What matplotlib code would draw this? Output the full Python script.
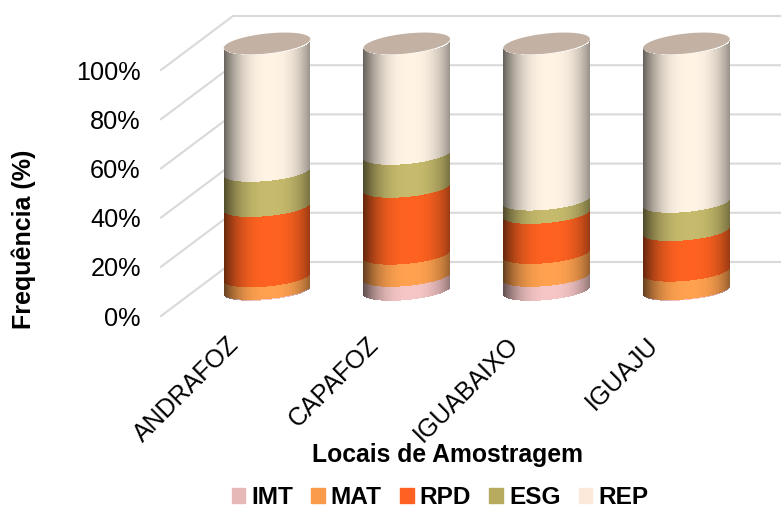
import numpy as np
import matplotlib
matplotlib.use('Agg')
import matplotlib.pyplot as plt
from matplotlib.patches import Patch
from matplotlib.transforms import ScaledTranslation

plt.rcParams['font.family'] = ['Liberation Sans', 'DejaVu Sans']

locais = ['ANDRAFOZ', 'CAPAFOZ', 'IGUABAIXO', 'IGUAJU']
imt = [0.4, 5.7, 5.7, 0.3]
mat = [5.1, 9.0, 9.3, 7.5]
rpd = [28.6, 27.2, 16.3, 16.5]
esg = [14.3, 13.4, 5.4, 11.5]
rep = [51.6, 44.7, 63.3, 64.2]

series = [imt, mat, rpd, esg, rep]
nomes = ['IMT', 'MAT', 'RPD', 'ESG', 'REP']
cores = ['#F6C6C6', '#FFA14F', '#FF6220', '#C6BA6C', '#FFF3E4']
cores_legenda = ['#E6B8B7', '#F99B4B', '#FF6122', '#B7AB5F', '#FDE9D9']
cor_tampa = '#C3B2A4'
cor_grade = '#D9D9D9'
ticks_y = [0, 20, 40, 60, 80, 100]

W, H = 781, 509
# frente do "chao" em pixels, o resto sai da projecao obliqua
left, right, bottom, top = 161, 709, 316, 70
px_x = 139.8   # pixels por categoria
px_y = (bottom - top) / 100.0

fig = plt.figure(figsize=(W / 100, H / 100), dpi=100)
ax = fig.add_axes([left / W, 1 - bottom / H, (right - left) / W, (bottom - top) / H])
xmin = -72 / px_x
xlim = (xmin, xmin + (right - left) / px_x)

prof_x = 72 / px_x
prof_y = 54 / px_y

# parede do fundo e linhas diagonais
for v in ticks_y:
    ax.plot([xmin, xmin + prof_x, xlim[1] + prof_x], [v, v + prof_y, v + prof_y],
            color=cor_grade, lw=1.5, clip_on=False, zorder=1)

# cilindros
meio = 0.472
raio = 43.3 / px_x
incl = 4.0 / px_y
semi = 9.5 / px_y
u = np.linspace(-1, 1, 173)
um = (u[:-1] + u[1:]) / 2
brilho = 1 - 0.5 * np.abs(um - 0.08) ** 2.6


def borda(v):
    return v + meio * prof_y + incl * u - semi * np.sqrt(1 - u ** 2)


for i in range(len(locais)):
    cx = i + meio * prof_x
    xs = cx + raio * u
    base = 0
    for s, cor in zip(series, cores):
        v = s[i]
        X = np.vstack([xs, xs])
        Y = np.vstack([borda(base), borda(base + v)])
        rgb = np.outer(brilho, matplotlib.colors.to_rgb(cor))[np.newaxis, :, :]
        ax.pcolormesh(X, Y, rgb, shading='flat', clip_on=False, zorder=3)
        base += v
    # tampa um pouco acima do centro e mais inclinada
    t = np.linspace(0, 2 * np.pi, 200)
    ax.fill(cx + raio * np.cos(t),
            base + meio * prof_y + 1 / px_y + 4.5 / px_y * np.cos(t) + 10 / px_y * np.sin(t),
            color=cor_tampa, lw=0, clip_on=False, zorder=4)

ax.set_xlim(xlim)
ax.set_ylim(0, 100)

for lado in ax.spines.values():
    lado.set_visible(False)
ax.set_yticks(ticks_y)
ax.set_yticklabels(['%d%%' % v for v in ticks_y], fontsize=18.2)
ax.set_xticks(range(len(locais)))
ax.set_xticklabels(locais, fontsize=18, rotation=45, ha='right', va='top',
                   rotation_mode='anchor')
ax.tick_params(axis='x', length=0, pad=12)
ax.tick_params(axis='y', length=0, pad=14.5)
ax.patch.set_visible(False)

for rotulo in ax.get_xticklabels():
    rotulo.set_transform(rotulo.get_transform() + ScaledTranslation(-4.5 / 72, 0, fig.dpi_scale_trans))

ax.set_xlabel('Locais de Amostragem', fontsize=17.8, fontweight='bold')
ax.xaxis.set_label_coords((447 - left) / (right - left), (bottom - 443) / (bottom - top))
ax.set_ylabel('Frequência (%)', fontsize=18, fontweight='bold')
ax.yaxis.set_label_coords((36 - left) / (right - left), (bottom - 239) / (bottom - top))

handles = [Patch(color=c, label=n) for c, n in zip(cores_legenda, nomes)]
leg = ax.legend(handles=handles, ncol=5, frameon=False, loc='center',
                bbox_to_anchor=((440 - left) / (right - left), (bottom - 497.5) / (bottom - top)),
                prop={'size': 17.6, 'weight': 'bold'}, handlelength=0.55, handleheight=0.55,
                handletextpad=0.25, columnspacing=0.75, borderpad=0, borderaxespad=0)

fig.savefig('out.png', dpi=100)
